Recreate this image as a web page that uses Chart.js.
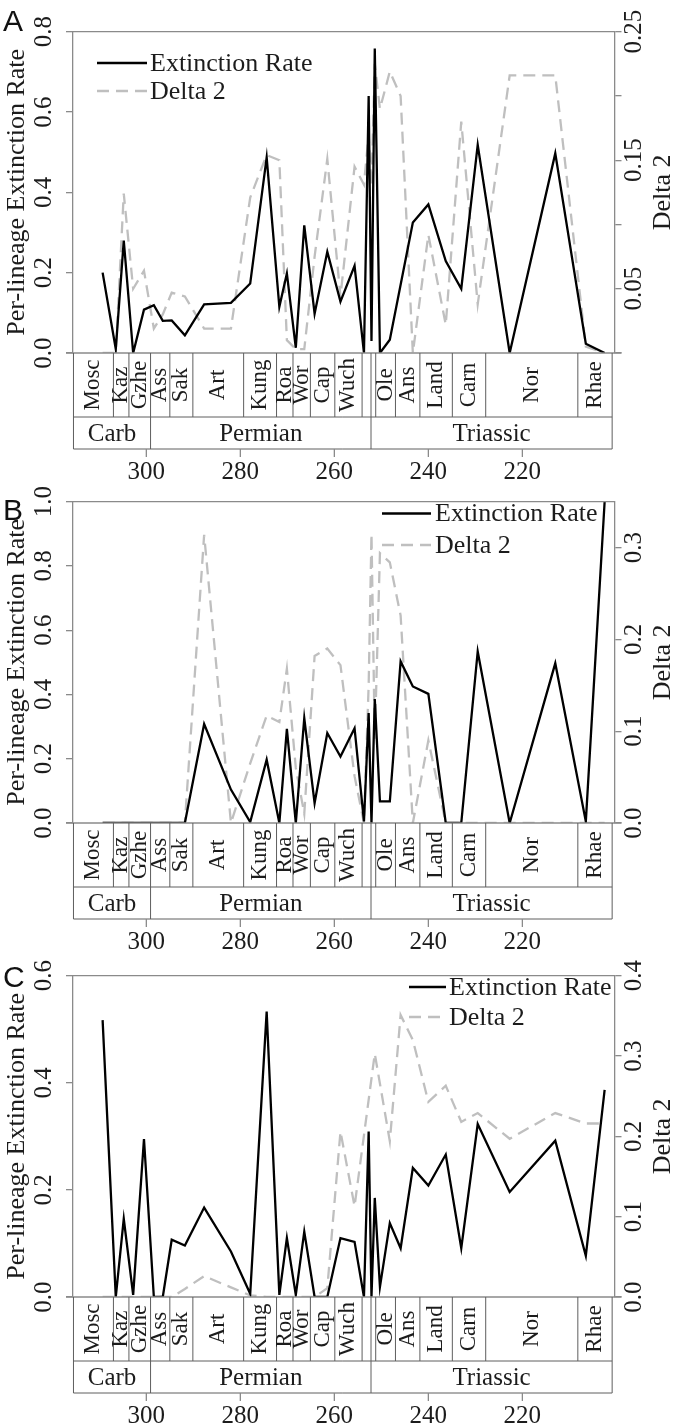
<!DOCTYPE html>
<html lang="en">
<head>
<meta charset="UTF-8">
<title>Per-lineage extinction rate and Delta 2</title>
<script src="https://cdn.jsdelivr.net/npm/chart.js@4.4.1/dist/chart.umd.min.js"></script>
<style>
  body { margin: 0; background: #fff; }
  #wrap { position: relative; width: 675px; height: 1426px; overflow: hidden; }
  canvas { position: absolute; left: 0; }
</style>
</head>
<body>
<div id="wrap">
  <canvas id="panelA" width="675" height="482" style="top:0px"></canvas>
  <canvas id="panelB" width="675" height="482" style="top:470px"></canvas>
  <canvas id="panelC" width="675" height="482" style="top:944px"></canvas>
</div>
<script>
// time bins (Ma), shared by the three panels
const ages = [309.3, 306.5, 304.8, 302.8, 300.5, 298.4, 296.5, 294.6, 291.8, 287.7,
              282.0, 277.9, 274.4, 271.7, 270.1, 268.2, 266.4, 264.2, 261.5, 258.7,
              255.7, 253.7, 252.7, 252.1, 251.4, 250.3, 248.2, 245.9, 243.3, 240.0,
              236.3, 233.0, 229.5, 222.7, 213.0, 206.5, 202.5];

// panel A
const rateA  = [0.20, 0.01, 0.28, 0.0, 0.108, 0.119, 0.08, 0.081, 0.044, 0.121,
                0.125, 0.173, 0.487, 0.115, 0.198, 0.013, 0.318, 0.098, 0.252, 0.128,
                0.217, 0.0, 0.64, 0.03, 0.758, 0.0, 0.033, null, 0.325, 0.37,
                0.229, 0.16, 0.518, 0.0, 0.497, 0.023, 0.0];
const deltaA = [0.0, 0.0, 0.124, 0.05, 0.064, 0.019, 0.03, 0.047, 0.044, 0.019,
                0.019, 0.121, 0.154, 0.15, 0.01, 0.003, 0.003, 0.075, 0.151, 0.044,
                0.145, 0.131, 0.17, 0.13, 0.225, 0.19, 0.219, 0.2, 0.0, 0.092,
                0.022, 0.18, 0.038, 0.216, 0.216, 0.005, 0.0];
// panel B
const rateB  = [0, 0, 0, 0, 0, 0, 0, 0, 0, 0.308,
                0.104, 0.003, 0.197, 0.0, 0.293, 0.0, 0.326, 0.062, 0.28, 0.207,
                0.295, 0.005, 0.342, 0.0, 0.386, 0.067, 0.067, 0.503, 0.425, 0.402,
                0.0, 0.0, 0.534, 0.0, 0.497, 0.005, 1.0];
const deltaB = [0, 0, 0, 0, 0, 0, 0, 0, 0, 0.314,
                0.0, 0.065, 0.117, 0.110, 0.168, 0.06, 0.01, 0.182, 0.19, 0.172,
                0.051, 0.0, 0.15, 0.315, 0.09, 0.294, 0.284, 0.226, 0.0, 0.09,
                0, 0, 0, 0, 0, 0, 0];
// panel C
const rateC  = [0.517, 0.0, 0.146, 0.004, 0.295, 0.0, 0.0, 0.107, 0.096, 0.167,
                0.085, 0.006, 0.533, 0.004, 0.11, 0.004, 0.122, 0.0, 0.0, 0.11,
                0.103, 0.0, 0.309, 0.0, 0.185, 0.019, 0.138, 0.091, 0.241, 0.208,
                0.266, 0.091, 0.323, 0.196, 0.292, 0.077, 0.387];
const deltaC = [0, 0, 0, 0, 0, 0, 0, 0, 0.01, 0.026,
                0.012, 0.002, 0, 0, 0, 0, 0, 0, 0.011, 0.206,
                0.113, null, null, null, 0.303, null, 0.194, 0.351, 0.32, 0.243,
                0.263, 0.218, 0.229, 0.197, 0.229, 0.216, 0.216];

// timescale
const stageNames  = ['Mosc', 'Kaz', 'Gzhe', 'Ass', 'Sak', 'Art', 'Kung', 'Roa', 'Wor', 'Cap',
                     'Wuch', '', '', 'Ole', 'Ans', 'Land', 'Carn', 'Nor', 'Rhae'];
const stageBounds = [315.5, 307.0, 303.7, 299.1, 295.0, 290.1, 279.3, 272.3, 268.8, 265.1,
                     259.9, 254.1, 252.2, 251.2, 247.0, 241.8, 234.9, 227.8, 208.2, 200.9];
const periodNames  = ['Carb', 'Permian', 'Triassic'];
const periodBounds = [315.5, 299.1, 252.2, 200.9];
const ageTicks = [300, 280, 260, 240, 220];

// y axis ticks
const leftTicksA = [0, 0.2, 0.4, 0.6, 0.8];
const rightTicksA = [0, 0.05, 0.1, 0.15, 0.2, 0.25];
const rightLabelsA = ['', '0.05', '', '0.15', '', '0.25'];
const leftTicksB = [0, 0.2, 0.4, 0.6, 0.8, 1.0];
const rightTicksB = [0, 0.1, 0.2, 0.3];
const rightLabelsB = ['0.0', '0.1', '0.2', '0.3'];
const leftTicksC = [0, 0.2, 0.4, 0.6];
const rightTicksC = [0, 0.1, 0.2, 0.3, 0.4];
const rightLabelsC = ['0.0', '0.1', '0.2', '0.3', '0.4'];

const serif = '"Liberation Serif", "DejaVu Serif", serif';
const axisColor = '#8a8a8a';
const boxColor = '#5e5e5e';
const textColor = '#1c1c1c';
const greyLine = '#bfbfbf';
const dash = [12, 7];

function line(ctx, x1, y1, x2, y2) {
    ctx.beginPath();
    ctx.moveTo(x1, y1);
    ctx.lineTo(x2, y2);
    ctx.stroke();
}

function vtext(ctx, txt, x, y) {
    ctx.save();
    ctx.translate(x, y);
    ctx.rotate(-Math.PI / 2);
    ctx.fillText(txt, 0, 0);
    ctx.restore();
}

// frame, timescale boxes, tick labels, titles, legend
function decor(p) {
    return {
        id: 'decor',
        afterDraw(chart) {
            const ctx = chart.ctx, a = chart.chartArea;
            const X = v => chart.scales.x.getPixelForValue(v);
            const ys = chart.scales.y, ys2 = chart.scales.y2;
            const r0 = a.bottom, r1 = a.bottom + 64, r2 = a.bottom + 96;
            ctx.save();

            ctx.strokeStyle = axisColor;
            ctx.lineWidth = 1.3;
            line(ctx, a.left, a.top, a.right, a.top);
            line(ctx, a.left - 7, a.bottom, a.right + 7, a.bottom);

            // stage and period boxes
            ctx.strokeStyle = boxColor;
            ctx.lineWidth = 1;
            const xl = X(stageBounds[0]), xr = X(stageBounds[stageBounds.length - 1]);
            stageBounds.forEach(b => line(ctx, X(b), r0, X(b), r1));
            line(ctx, xl, r1, xr, r1);
            periodBounds.forEach(b => line(ctx, X(b), r1, X(b), r2));
            line(ctx, xl, r2, xr, r2);

            ctx.fillStyle = textColor;
            ctx.textAlign = 'center';
            ctx.textBaseline = 'middle';
            ctx.font = '23px ' + serif;
            stageNames.forEach((s, i) => {
                if (s) vtext(ctx, s, (X(stageBounds[i]) + X(stageBounds[i + 1])) / 2, (r0 + r1) / 2);
            });
            ctx.font = '25px ' + serif;
            periodNames.forEach((s, i) => {
                ctx.fillText(s, (X(periodBounds[i]) + X(periodBounds[i + 1])) / 2, (r1 + r2) / 2 + 1);
            });

            // age axis
            ctx.strokeStyle = axisColor;
            ctx.lineWidth = 1.3;
            ctx.font = '25px ' + serif;
            ageTicks.forEach(t => {
                line(ctx, X(t), r2, X(t), r2 + 8);
                ctx.fillText(String(t), X(t), r2 + 23);
            });

            // y tick labels
            p.leftTicks.forEach(v => vtext(ctx, v.toFixed(1), 44.5, ys.getPixelForValue(v)));
            p.rightTicks.forEach((v, i) => {
                if (p.rightLabels[i]) vtext(ctx, p.rightLabels[i], 634, ys2.getPixelForValue(v));
            });

            // axis titles
            ctx.font = '26px ' + serif;
            const ym = (a.top + a.bottom) / 2;
            vtext(ctx, 'Per-lineage Extinction Rate', 17, ym);
            vtext(ctx, 'Delta 2', 663, ym);

            // legend
            const lg = p.legend;
            ctx.lineWidth = 2.3;
            ctx.strokeStyle = '#000';
            line(ctx, lg.x0, lg.y1, lg.x1, lg.y1);
            ctx.strokeStyle = greyLine;
            ctx.setLineDash(dash);
            line(ctx, lg.x0, lg.y2, lg.x1, lg.y2);
            ctx.setLineDash([]);
            ctx.textAlign = 'left';
            ctx.fillText('Extinction Rate', lg.tx, lg.y1 + 1);
            ctx.fillText('Delta 2', lg.tx, lg.y2 + 1);

            // panel letter
            ctx.font = '30px "Liberation Sans", Arial, sans-serif';
            ctx.textBaseline = 'alphabetic';
            ctx.fillStyle = '#111';
            ctx.fillText(p.letter, 3, p.letterY);
            ctx.restore();
        }
    };
}

function makePanel(id, p) {
    new Chart(document.getElementById(id), {
        type: 'line',
        data: {
            datasets: [{
                label: 'Extinction Rate',
                data: ages.map((a, i) => ({ x: a, y: p.rate[i] })),
                yAxisID: 'y',
                borderColor: '#000',
                borderWidth: 2.3,
                pointRadius: 0,
                tension: 0,
                spanGaps: true
            }, {
                label: 'Delta 2',
                data: ages.map((a, i) => ({ x: a, y: p.delta[i] })),
                yAxisID: 'y2',
                borderColor: greyLine,
                borderWidth: 2.3,
                borderDash: dash,
                pointRadius: 0,
                tension: 0,
                spanGaps: true
            }]
        },
        options: {
            responsive: false,
            animation: false,
            devicePixelRatio: 1,
            layout: { padding: { top: 31.7, bottom: 482 - 353, left: 0, right: 0 } },
            plugins: { legend: { display: false }, tooltip: { enabled: false } },
            scales: {
                x: { type: 'linear', reverse: true, min: 200.4, max: 315.6, display: false },
                y: {
                    position: 'left', min: 0, max: p.yMax,
                    afterBuildTicks: s => { s.ticks = p.leftTicks.map(v => ({ value: v })); },
                    ticks: { display: false },
                    grid: { drawOnChartArea: false, tickLength: 7, color: axisColor, lineWidth: 1.3 },
                    border: { color: axisColor, width: 1.3 },
                    afterFit: s => { s.width = 73; }
                },
                y2: {
                    position: 'right', min: 0, max: p.y2Max,
                    afterBuildTicks: s => { s.ticks = p.rightTicks.map(v => ({ value: v })); },
                    ticks: { display: false },
                    grid: { drawOnChartArea: false, tickLength: 7, color: axisColor, lineWidth: 1.3 },
                    border: { color: axisColor, width: 1.3 },
                    afterFit: s => { s.width = 60.5; }
                }
            }
        },
        plugins: [decor(p)]
    });
}

makePanel('panelA', {
    rate: rateA, delta: deltaA, yMax: 0.8, y2Max: 0.25,
    leftTicks: leftTicksA, rightTicks: rightTicksA, rightLabels: rightLabelsA,
    letter: 'A', letterY: 31,
    legend: { x0: 97, x1: 147, tx: 150, y1: 63, y2: 91 }
});
makePanel('panelB', {
    rate: rateB, delta: deltaB, yMax: 1.0, y2Max: 0.35,
    leftTicks: leftTicksB, rightTicks: rightTicksB, rightLabels: rightLabelsB,
    letter: 'B', letterY: 49.5,
    legend: { x0: 382, x1: 431, tx: 435, y1: 43.5, y2: 75 }
});
makePanel('panelC', {
    rate: rateC, delta: deltaC, yMax: 0.6, y2Max: 0.4,
    leftTicks: leftTicksC, rightTicks: rightTicksC, rightLabels: rightLabelsC,
    letter: 'C', letterY: 42.5,
    legend: { x0: 409, x1: 446, tx: 449, y1: 43, y2: 73 }
});
</script>
</body>
</html>
